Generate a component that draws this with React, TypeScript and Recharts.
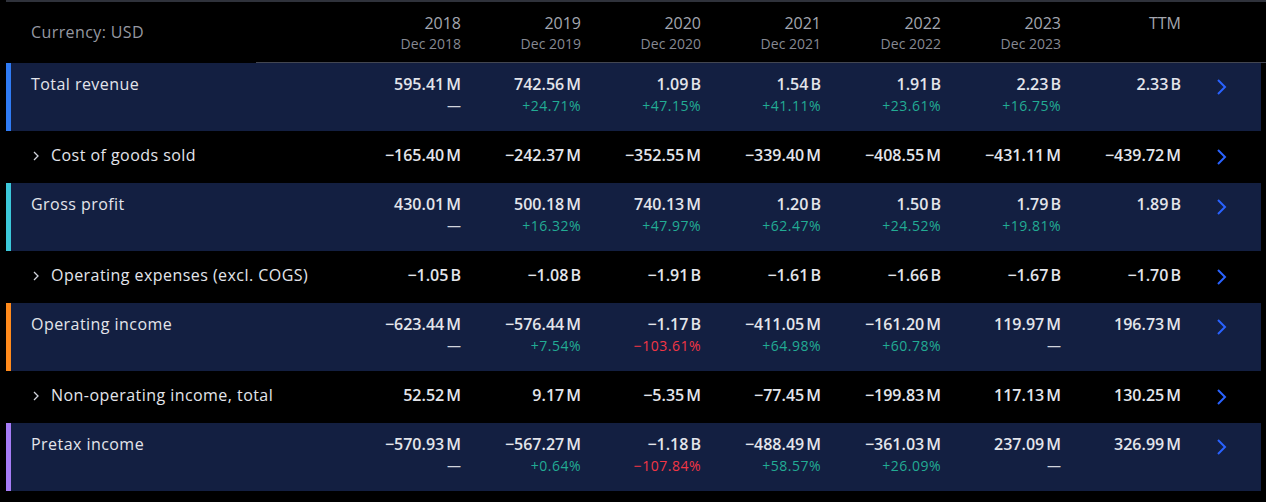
import React from 'react';
import { ComposedChart, XAxis, YAxis, Scatter, ReferenceArea, ReferenceLine } from 'recharts';

// ---------- DATA ----------
const categories = [
  'Total revenue',
  'Cost of goods sold',
  'Gross profit',
  'Operating expenses (excl. COGS)',
  'Operating income',
  'Non-operating income, total',
  'Pretax income',
];
const periods = ['2018', '2019', '2020', '2021', '2022', '2023', 'TTM'];
const periodEnds = ['Dec 2018', 'Dec 2019', 'Dec 2020', 'Dec 2021', 'Dec 2022', 'Dec 2023', ''];
const currency = 'USD';

// values in millions USD
const totalRevenue = [595.41, 742.56, 1090, 1540, 1910, 2230, 2330];
const costOfGoodsSold = [-165.4, -242.37, -352.55, -339.4, -408.55, -431.11, -439.72];
const grossProfit = [430.01, 500.18, 740.13, 1200, 1500, 1790, 1890];
const operatingExpenses = [-1050, -1080, -1910, -1610, -1660, -1670, -1700];
const operatingIncome = [-623.44, -576.44, -1170, -411.05, -161.2, 119.97, 196.73];
const nonOperatingIncome = [52.52, 9.17, -5.35, -77.45, -199.83, 117.13, 130.25];
const pretaxIncome = [-570.93, -567.27, -1180, -488.49, -361.03, 237.09, 326.99];

// YoY growth in % (null = not available)
const totalRevenueGrowth = [null, 24.71, 47.15, 41.11, 23.61, 16.75];
const grossProfitGrowth = [null, 16.32, 47.97, 62.47, 24.52, 19.81];
const operatingIncomeGrowth = [null, 7.54, -103.61, 64.98, 60.78, null];
const pretaxIncomeGrowth = [null, 0.64, -107.84, 58.57, 26.09, null];

const expandableRows = ['Cost of goods sold', 'Operating expenses (excl. COGS)', 'Non-operating income, total'];

const rowValues = [totalRevenue, costOfGoodsSold, grossProfit, operatingExpenses, operatingIncome, nonOperatingIncome, pretaxIncome];
const rowGrowth: (Array<number | null> | null)[] = [totalRevenueGrowth, null, grossProfitGrowth, null, operatingIncomeGrowth, null, pretaxIncomeGrowth];

// ---------- STYLE ----------
const FONT = '"Open Sans", "Noto Sans", sans-serif';
const W = 1266;
const H = 502;
const ACCENTS: Record<string, string> = {
  'Total revenue': '#2f7bf5',
  'Gross profit': '#3cc8da',
  'Operating income': '#ff8a1c',
  'Pretax income': '#a67cf6',
};
const ROW_BG = '#131f41';
const COL_RIGHT0 = 461; // px of first value column's right edge
const COL_W = 120;
const px = (p: number) => (p - COL_RIGHT0) / COL_W; // px -> column units
const py = (p: number) => p / 10; // px -> row units

const HEADER_H = 62;
const TALL_H = 70;
const SHORT_H = 50;

const MINUS = '\u2212';
const NNBSP = '\u202F';
const fmtValue = (v: number) => {
  const a = Math.abs(v);
  const s = a >= 1000 ? (a / 1000).toFixed(2) + NNBSP + 'B' : a.toFixed(2) + NNBSP + 'M';
  return (v < 0 ? MINUS : '') + s;
};
const fmtPct = (v: number) => (v < 0 ? MINUS : '+') + Math.abs(v).toFixed(2) + '%';

const TEXT_STYLES: Record<string, any> = {
  currency: { size: 16, color: '#9598a1', anchor: 'start', weight: 400, ls: 0.4 },
  year: { size: 16, color: '#a3a6af', anchor: 'end', weight: 400, ls: 0 },
  period: { size: 14, color: '#868993', anchor: 'end', weight: 400, ls: 0 },
  label: { size: 16, color: '#e3e5eb', anchor: 'start', weight: 500, ls: 0.45 },
  value: { size: 16, color: '#e3e5eb', anchor: 'end', weight: 600, ls: 0 },
  pos: { size: 14, color: '#22ab94', anchor: 'end', weight: 400, ls: 0.5 },
  neg: { size: 14, color: '#f23645', anchor: 'end', weight: 400, ls: 0.5 },
  dash: { size: 14, color: '#d1d4dc', anchor: 'end', weight: 400, ls: 0 },
};

const TextShape = (props: any) => {
  const { cx, cy } = props;
  const p = props.payload ?? props;
  const st = TEXT_STYLES[p.kind];
  if (cx == null || cy == null) return null;
  return (
    <text
      x={cx}
      y={cy}
      dy="0.36em"
      textAnchor={st.anchor}
      fontSize={st.size}
      fill={st.color}
      fontWeight={st.weight}
      fontFamily={FONT}
      letterSpacing={st.ls}
    >
      {p.text}
    </text>
  );
};

const ChevronShape = (props: any) => {
  const { cx, cy } = props;
  const p = props.payload ?? props;
  if (cx == null || cy == null) return null;
  if (p.kind === 'big') {
    return (
      <path
        d={`M${cx - 4},${cy - 7} L${cx + 3},${cy} L${cx - 4},${cy + 7}`}
        fill="none"
        stroke="#2962ff"
        strokeWidth={2}
      />
    );
  }
  return (
    <path
      d={`M${cx - 2},${cy - 4} L${cx + 2},${cy} L${cx - 2},${cy + 4}`}
      fill="none"
      stroke="#d1d4dc"
      strokeWidth={1.3}
    />
  );
};

export default function App() {
  // row layout
  let top = HEADER_H;
  const rows = categories.map((name, i) => {
    const tall = rowGrowth[i] != null;
    const h = tall ? TALL_H : SHORT_H;
    const r = { name, i, top, h, tall };
    top += h;
    return r;
  });

  const texts: any[] = [];
  const chevrons: any[] = [];
  texts.push({ x: px(31), y: py(32), text: `Currency: ${currency}`, kind: 'currency' });
  periods.forEach((p, c) => {
    texts.push({ x: c, y: py(23), text: p, kind: 'year' });
    if (periodEnds[c]) texts.push({ x: c, y: py(44), text: periodEnds[c], kind: 'period' });
  });
  rows.forEach((r) => {
    const lineY = r.top + (r.tall ? 22 : 23);
    const expandable = expandableRows.includes(r.name);
    texts.push({ x: px(expandable ? 51 : 31), y: py(lineY), text: r.name, kind: 'label' });
    if (expandable) chevrons.push({ x: px(36), y: py(lineY + 1), kind: 'small' });
    rowValues[r.i].forEach((v, c) => {
      texts.push({ x: c, y: py(lineY), text: fmtValue(v), kind: 'value' });
    });
    const g = rowGrowth[r.i];
    if (g) {
      g.forEach((v, c) => {
        if (v == null) texts.push({ x: c, y: py(r.top + 44), text: '\u2014', kind: 'dash' });
        else texts.push({ x: c, y: py(r.top + 44), text: fmtPct(v), kind: v < 0 ? 'neg' : 'pos' });
      });
    }
    chevrons.push({ x: px(1222), y: py(r.top + 25), kind: 'big' });
  });

  return (
    <div style={{ position: 'fixed', left: 0, top: 0, width: W, height: H, background: '#000' }}>
      <ComposedChart width={W} height={H} margin={{ top: 0, right: 0, bottom: 0, left: 0 }}>
        <XAxis type="number" dataKey="x" domain={[px(0), px(W)]} hide allowDataOverflow />
        <YAxis type="number" dataKey="y" domain={[0, py(H)]} reversed hide allowDataOverflow />
        <ReferenceLine
          segment={[{ x: px(6), y: py(1) }, { x: px(W), y: py(1) }]}
          stroke="#2f323b"
          strokeWidth={2}
        />
        <ReferenceLine
          segment={[{ x: px(256), y: py(62.5) }, { x: px(W), y: py(62.5) }]}
          stroke="#434651"
          strokeWidth={1}
        />
        {rows
          .filter((r) => r.tall)
          .map((r) => (
            <ReferenceArea
              key={'bg' + r.i}
              x1={px(6)}
              x2={px(1261)}
              y1={py(r.top + 1)}
              y2={py(r.top + r.h - 1)}
              fill={ROW_BG}
              fillOpacity={1}
              stroke="none"
            />
          ))}
        {rows
          .filter((r) => r.tall)
          .map((r) => (
            <ReferenceArea
              key={'ac' + r.i}
              x1={px(6)}
              x2={px(11)}
              y1={py(r.top + 1)}
              y2={py(r.top + r.h - 1)}
              fill={ACCENTS[r.name]}
              fillOpacity={1}
              stroke="none"
            />
          ))}
        <Scatter data={texts} dataKey="y" shape={TextShape} isAnimationActive={false} />
        <Scatter data={chevrons} dataKey="y" shape={ChevronShape} isAnimationActive={false} />
      </ComposedChart>
    </div>
  );
}
